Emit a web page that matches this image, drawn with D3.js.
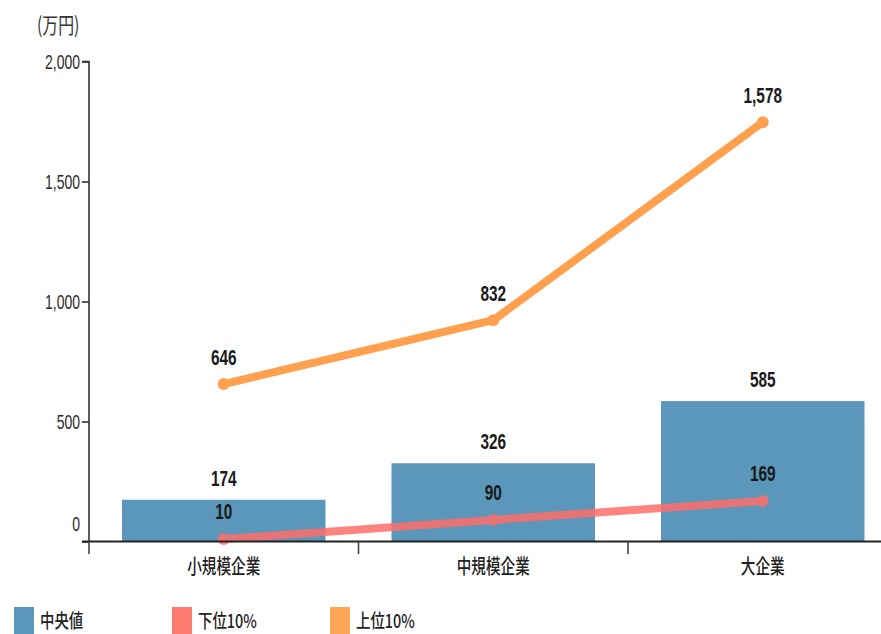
<!DOCTYPE html>
<html>
<head>
<meta charset="utf-8">
<script src="https://cdn.jsdelivr.net/npm/d3@7"></script>
<style>
  html, body { margin: 0; padding: 0; background: #fff; }
  svg { display: block; }
  text { font-family: "Liberation Sans", Arial, sans-serif; }
  .cjk { font-family: "Noto Sans CJK JP", "Noto Sans", sans-serif; }
</style>
</head>
<body>
<svg id="chart" width="881" height="634"></svg>
<script>
// Annual income by company size (万円)
const categories = ["小規模企業", "中規模企業", "大企業"];
const median = [174, 326, 585];   // 中央値 (bars)
const lower10 = [10, 90, 169];    // 下位10% (line)
const upper10 = [646, 832, 1578]; // 上位10% (line, stacked on 下位10%)
const yTicks = [0, 500, 1000, 1500, 2000];
const unitLabel = "(万円)";
const seriesNames = ["中央値", "下位10%", "上位10%"];

const colors = { median: "#5b96bb", lower: "#ff6f6a", upper: "#ffa04f" };
const legendColors = ["#5b96bb", "#fd7b6f", "#ffa657"];

const svg = d3.select("#chart");

const x = d3.scaleBand().domain(categories).range([89, 897.5]).paddingInner(0.245).paddingOuter(0.1225);
const y = d3.scaleLinear().domain([0, 2000]).range([541.5, 61.5]);

// Stack the two percentile series so the upper line sits on the lower one
const rows = categories.map((c, i) => ({ cat: c, lower: lower10[i], upper: upper10[i] }));
const stacked = d3.stack().keys(["lower", "upper"])(rows);

// condensed text helper
function ctext(g, x0, y0, str, opts) {
  const t = g.append("text")
    .attr("transform", `translate(${x0},${y0}) scale(${opts.sx || 0.7},1)`)
    .attr("text-anchor", opts.anchor || "middle")
    .attr("font-size", opts.size || 20)
    .attr("font-weight", opts.weight || "normal")
    .attr("fill", opts.fill || "#222")
    .text(str);
  if (opts.cls) t.attr("class", opts.cls);
  return t;
}

// Bars
svg.append("g").selectAll("rect")
  .data(median)
  .join("rect")
  .attr("x", (d, i) => x(categories[i]))
  .attr("width", x.bandwidth())
  .attr("y", d => y(d))
  .attr("height", d => y(0) - y(d))
  .attr("fill", colors.median);

// Lines
const lineGen = d3.line()
  .x((d, i) => x(categories[i]) + x.bandwidth() / 2)
  .y(d => y(d[1]));

const lineLayer = svg.append("g");
[["lower", colors.lower, 0.85], ["upper", colors.upper, 1]].forEach(([key, col, op], k) => {
  const s = stacked[k];
  const g = lineLayer.append("g").attr("opacity", op);
  g.append("path")
    .datum(s)
    .attr("d", lineGen)
    .attr("fill", "none")
    .attr("stroke", col)
    .attr("stroke-width", 8)
    .attr("stroke-linejoin", "round");
  g.selectAll("circle")
    .data(s)
    .join("circle")
    .attr("cx", (d, i) => x(categories[i]) + x.bandwidth() / 2)
    .attr("cy", d => y(d[1]))
    .attr("r", 6)
    .attr("fill", col);
});

// Axes
const yAxisG = svg.append("g")
  .attr("transform", "translate(89,0)")
  .call(d3.axisLeft(y).tickValues(yTicks).tickSize(7).tickPadding(9).tickFormat(d3.format(",")));
yAxisG.select(".domain").attr("stroke", "#333").attr("stroke-width", 1.6).attr("d", "M-7,61.5H0V541.5");
yAxisG.selectAll(".tick line").attr("stroke", "#333").attr("stroke-width", 1.6);
yAxisG.selectAll(".tick text")
  .attr("font-family", "'Liberation Sans', Arial, sans-serif")
  .attr("font-size", 20)
  .attr("fill", "#2b2b2b")
  .attr("transform", "scale(0.7,1)")
  .attr("x", -9 / 0.7)
  .attr("dy", d => d === 0 ? "-0.55em" : "0.34em");

const xAxisG = svg.append("g").attr("transform", `translate(0,${y(0)})`);
xAxisG.append("line").attr("x1", 82).attr("x2", 900).attr("stroke", "#222").attr("stroke-width", 2);
const boundaries = categories.map(c => x(c) - x.step() * x.paddingInner() / 2);
boundaries[0] = 89;
boundaries.push(897.5);
xAxisG.selectAll("line.tk")
  .data(boundaries)
  .join("line")
  .attr("class", "tk")
  .attr("x1", d => d).attr("x2", d => d)
  .attr("y1", 0).attr("y2", 12.5)
  .attr("stroke", "#444").attr("stroke-width", 1.6);

categories.forEach(c => {
  ctext(svg, x(c) + x.bandwidth() / 2, 574, c, { size: 20, sx: 0.73, weight: 500, fill: "#222", cls: "cjk" });
});

// Unit label
ctext(svg, 37, 33, unitLabel, { size: 22, sx: 0.72, anchor: "start", fill: "#333", cls: "cjk" });

// Value labels
const fmt = d3.format(",");
categories.forEach((c, i) => {
  const cx = x(c) + x.bandwidth() / 2;
  ctext(svg, cx, y(median[i]) - 14, fmt(median[i]), { size: 22, sx: 0.7, weight: "bold", fill: "#1a1a1a" });
  ctext(svg, cx, y(stacked[0][i][1]) - 20, fmt(lower10[i]), { size: 22, sx: 0.7, weight: "bold", fill: "#1a1a1a" });
  ctext(svg, cx, y(stacked[1][i][1]) - 19, fmt(upper10[i]), { size: 22, sx: 0.7, weight: "bold", fill: "#1a1a1a" });
});

// Legend
const legendX = [14, 172, 330];
seriesNames.forEach((name, i) => {
  svg.append("rect").attr("x", legendX[i]).attr("y", 607).attr("width", 20).attr("height", 27).attr("fill", legendColors[i]);
  ctext(svg, legendX[i] + 26, 628, name, { size: 19, sx: 0.76, anchor: "start", weight: 500, fill: "#222", cls: "cjk" });
});
</script>
</body>
</html>
